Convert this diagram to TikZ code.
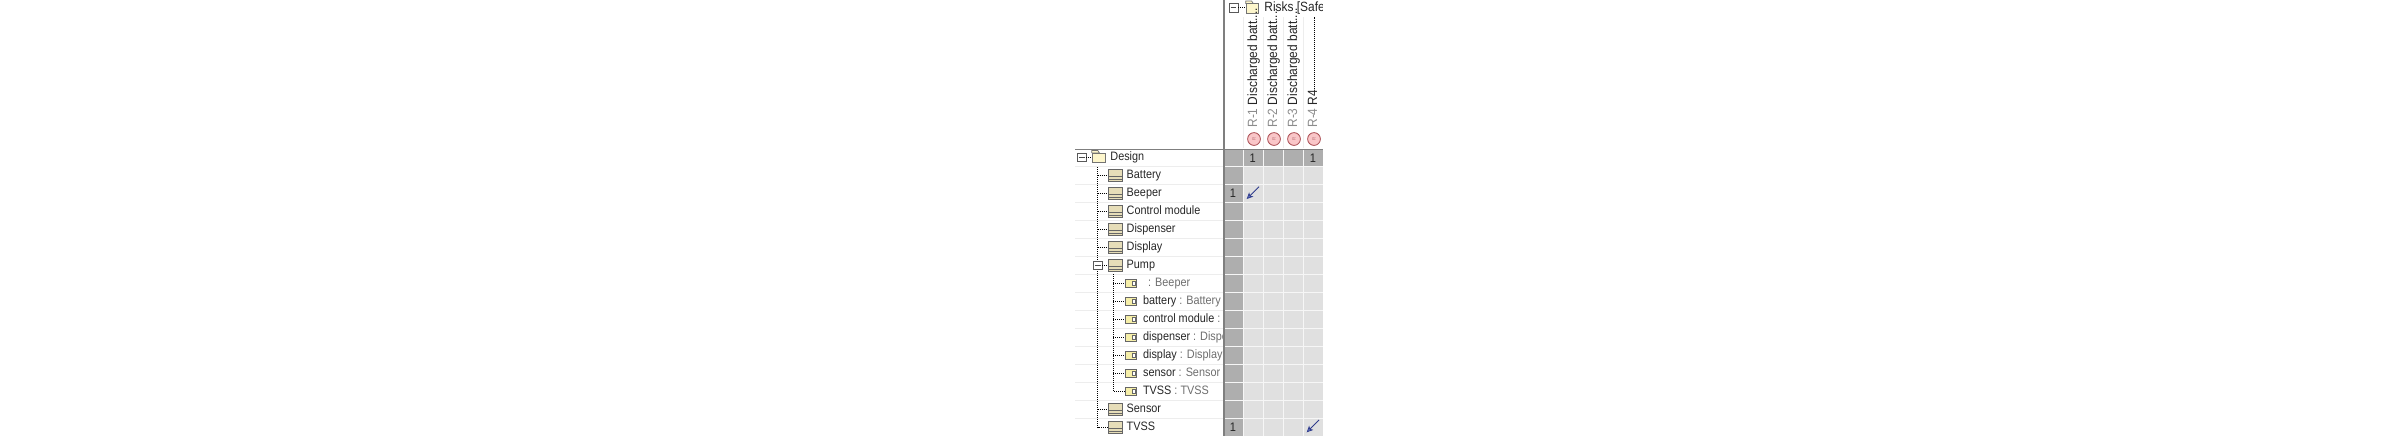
\documentclass[tikz,border=0pt]{standalone}
\usepackage{fontspec}
\setmainfont[FakeStretch=0.89]{Liberation Sans}
\usetikzlibrary{arrows.meta}
\definecolor{cellhead}{HTML}{AEAEAE}
\definecolor{cellbody}{HTML}{E0E0E0}
\definecolor{rowrule}{HTML}{EDEDED}
\definecolor{axisline}{HTML}{7F7F7F}
\definecolor{folderfill}{HTML}{FDF6CC}
\definecolor{classfill}{HTML}{E6DDB8}
\definecolor{partfill}{HTML}{F6EFA8}
\definecolor{riskfill}{HTML}{F9C6C8}
\definecolor{riskline}{HTML}{A84A50}
\definecolor{typegray}{HTML}{6E6E6E}
\definecolor{idgray}{HTML}{8C8C8C}
\definecolor{relline}{HTML}{2F3C8C}
\definecolor{relhead}{HTML}{6C80D0}
\newcommand{\battname}{Discharged batt....}
\tikzset{
    rowtext/.style={font=\fontsize{6.1}{7}\selectfont, anchor=west, inner sep=0pt, text height=4.2pt, text depth=1.2pt, text=black!85},
    headtext/.style={rowtext, font=\fontsize{6.7}{7}\selectfont},
    treeline/.style={dash pattern=on 0.5pt off 0.5pt, line width=0.5pt},
    toggle/.style={draw=black!65, fill=white, line width=0.35pt, minimum size=4.4pt, inner sep=0pt,
        path picture={\draw[black!70, line width=0.35pt] ([xshift=0.8pt]path picture bounding box.west) -- ([xshift=-0.8pt]path picture bounding box.east);}},
    folder/.style={draw=black!55, fill=folderfill, line width=0.35pt, minimum width=6.4pt, minimum height=4.8pt, inner sep=0pt},
    foldertab/.style={draw=black!55, fill=folderfill, line width=0.35pt},
    classicon/.style={draw=black!60, fill=classfill, line width=0.4pt, minimum width=7pt, minimum height=6.4pt, inner sep=0pt,
        path picture={\draw[black!60, line width=0.35pt]
            ([yshift=-3.6pt]path picture bounding box.north west) -- ([yshift=-3.6pt]path picture bounding box.north east)
            ([yshift=1.4pt]path picture bounding box.south west) -- ([yshift=1.4pt]path picture bounding box.south east);}},
    particon/.style={draw=black!60, fill=partfill, line width=0.35pt, minimum width=5.8pt, minimum height=3.8pt, inner sep=0pt,
        path picture={\draw[black!60, line width=0.3pt, fill=white]
            ([xshift=-2.2pt,yshift=-1pt]path picture bounding box.north east) rectangle ([xshift=-0.9pt,yshift=1pt]path picture bounding box.south east);}},
    riskmark/.style={circle, draw=riskline, fill=riskfill, line width=0.4pt, minimum size=6.4pt, inner sep=0pt,
        font=\fontsize{2.4}{3}\selectfont, text=riskline!80},
    cellnum/.style={font=\fontsize{6.2}{7}\selectfont, inner sep=0pt, text=black!85},
    relarrow/.style={-{Stealth[length=3.2pt, width=3pt, inset=0.8pt, fill=relhead]}, relline, line width=0.4pt},
}
\begin{document}
\begin{tikzpicture}[x=0.5pt, y=-0.5pt]
        \useasboundingbox (0,0) rectangle (2398,436);
        % rules of the left tree
        \foreach \i in {0,...,14} {
            \draw[rowrule, line width=0.4pt] (1075, 166.7+18*\i) -- (1224, 166.7+18*\i);
            }
        % header of the risks
        \node[toggle] (toggleRisks) at (1233.5, 7.5) {};
        \node[folder] (folderRisks) at (1252.4, 8.6) {};
        \draw[treeline] (toggleRisks.east) -- (folderRisks.west |- toggleRisks.east);
        \begin{scope}
        \clip (1225, 0) rectangle (1322.5, 17);
        \node[headtext] (nameRisks) at (1264, 8) {Risks [Safety};
        \end{scope}
        \foreach \i in {1243,1263,1283,1303} {
            \draw[rowrule, line width=0.4pt] (\i, 17) -- (\i, 148);
            }
        \foreach \x/\id/\txt in {1254/1/\battname, 1274/2/\battname, 1294/3/\battname, 1314/4/R4} {
            \node[headtext, rotate=90] (risk\id) at (\x, 128) {\textcolor{idgray}{R-\id} \txt};
            \node[riskmark] (mark\id) at (\x, 139) {\rotatebox{90}{R}};
            }
        \coordinate (leaderEnd) at (1314, 17);
        \draw[treeline] (risk4.east) -- (leaderEnd);
        % the tree
        \node[toggle] (toggleDesign) at (1081.7, 157.3) {};
        \node[folder] (folderDesign) at (1098.5, 158) {};
        \node[rowtext] (nameDesign) at (1110, 157.3) {Design};
        \draw[treeline] (toggleDesign.east) -- (folderDesign.west |- toggleDesign.east);
        \foreach \f in {Risks,Design} {
            \draw[foldertab] (folder\f.north west) -- ++(0,-2.4) -- ++(6,0) -- ++(1.6,2.4) -- cycle;
            }
        \foreach \k/\id/\txt in {1/Battery/Battery, 2/Beeper/Beeper, 3/Control/Control module, 4/Dispenser/Dispenser,
                5/Display/Display, 6/Pump/Pump, 14/Sensor/Sensor, 15/TVSS/TVSS} {
            \node[classicon] (class\id) at (1115, 157.3+18*\k) {};
            \node[rowtext] (name\id) at (1126.3, 157.3+18*\k) {\txt};
            }
        \coordinate (spineTop) at (1097.7, 167);
        \draw[treeline] (spineTop) |- (classTVSS.west);
        \foreach \id in {Battery,Beeper,Control,Dispenser,Display,Sensor} {
            \draw[treeline] (spineTop |- class\id.west) -- (class\id.west);
            }
        \node[toggle] (togglePump) at (1097.7, 265.3) {};
        \draw[treeline] (togglePump.east) -- (classPump.west);
        \foreach \k/\id/\inst/\typ in {7/a/{\,}/: Beeper, 8/b/battery/: Battery, 9/c/control module/: Control module,
                10/d/dispenser/: Dispenser, 11/e/display/: Display, 12/f/sensor/: Sensor, 13/g/TVSS/: TVSS} {
            \node[particon] (part\id) at (1131, 157.3+18*\k) {};
            \node[rowtext] (inst\id) at (1142.7, 157.3+18*\k) {\inst\ \textcolor{typegray}{\typ}};
            }
        \coordinate (subTop) at (1113.3, 274);
        \draw[treeline] (subTop) |- (partg.west);
        \foreach \id in {a,b,c,d,e,f} {
            \draw[treeline] (subTop |- part\id.west) -- (part\id.west);
            }
        % the matrix
        \fill[cellbody] (1225, 167) rectangle (1323, 436);
        \fill[cellhead] (1225, 150) rectangle (1323, 167);
        \fill[cellhead] (1225, 150) rectangle (1243, 436);
        \foreach \i in {1243,1263,1283,1303} {
            \draw[white!70!cellbody, line width=0.4pt] (\i, 150) -- (\i, 436);
            }
        \foreach \i in {0,...,14} {
            \draw[white!70!cellbody, line width=0.4pt] (1225, 166.7+18*\i) -- (1323, 166.7+18*\i);
            }
        \draw[axisline, line width=0.75pt] (1224, 0) -- (1224, 436);
        \draw[axisline, line width=0.75pt] (1075, 149.3) -- (1323, 149.3);
        \node[cellnum] (sumR1) at (1252.7, 158) {1};
        \node[cellnum] (sumR4) at (1313, 158) {1};
        \node[cellnum] (sumBeeper) at (1233, 193.5) {1};
        \node[cellnum] (sumTVSS) at (1233, 427.5) {1};
        \coordinate (tailA) at (1259, 186.7);
        \coordinate (tipA) at (1246.7, 199);
        \coordinate (tailB) at (1319, 420);
        \coordinate (tipB) at (1306.7, 432.3);
        \draw[relarrow] (tailA) -- (tipA);
        \draw[relarrow] (tailB) -- (tipB);
    \end{tikzpicture}
\end{document}
